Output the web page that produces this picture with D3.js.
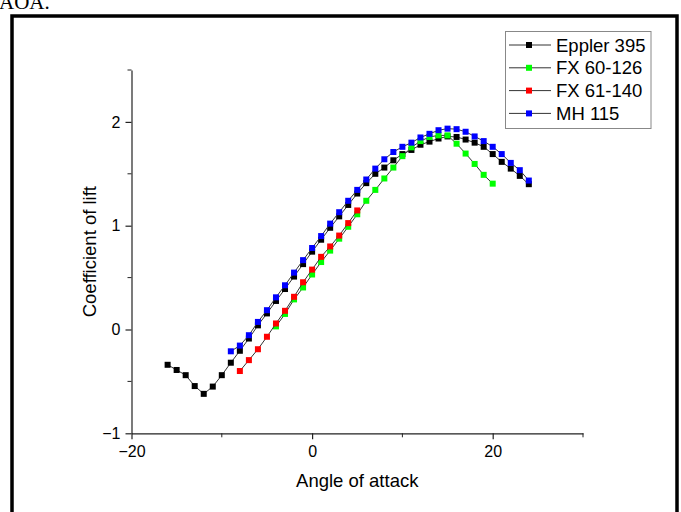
<!DOCTYPE html>
<html>
<head>
<meta charset="utf-8">
<script src="https://cdnjs.cloudflare.com/ajax/libs/d3/7.8.5/d3.min.js"></script>
<style>
	body { margin: 0; background: #fff; }
	svg { display: block; }
</style>
</head>
<body>
<div id="chart"></div>
<script>
//series names, in legend order
var seriesNames = ["Eppler 395", "FX 60-126", "FX 61-140", "MH 115"];

//angles of attack for each series
var epplerAoa = d3.range(-16, 25);
var fx60Aoa = d3.range(-4, 21);
var fx61Aoa = d3.range(-8, 6);
var mhAoa = d3.range(-9, 25);

//lift coefficients
var epplerCl = [-0.34, -0.39, -0.44, -0.545, -0.62, -0.55, -0.44, -0.32, -0.205, -0.087,
	0.04, 0.155, 0.275, 0.39, 0.51, 0.63, 0.75, 0.865, 0.98, 1.09,
	1.20, 1.31, 1.41, 1.50, 1.56, 1.63, 1.69, 1.73, 1.78, 1.81,
	1.84, 1.86, 1.855, 1.83, 1.80, 1.76, 1.69, 1.615, 1.55, 1.48, 1.40];
var fx60Cl = [0.03, 0.15, 0.29, 0.405, 0.53, 0.65, 0.76, 0.875, 0.99, 1.11,
	1.24, 1.345, 1.455, 1.56, 1.67, 1.755, 1.815, 1.855, 1.87, 1.87,
	1.79, 1.695, 1.595, 1.49, 1.405];
var fx61Cl = [-0.40, -0.295, -0.19, -0.07, 0.058, 0.18, 0.315, 0.455, 0.577, 0.70,
	0.80, 0.905, 1.025, 1.147];
var mhCl = [-0.21, -0.155, -0.055, 0.073, 0.186, 0.31, 0.426, 0.548, 0.668, 0.785,
	0.90, 1.02, 1.13, 1.24, 1.345, 1.445, 1.55, 1.64, 1.71, 1.76,
	1.80, 1.85, 1.885, 1.92, 1.935, 1.93, 1.905, 1.86, 1.815, 1.76,
	1.69, 1.605, 1.535, 1.435];

var seriesColors = ["#000000", "#00ff00", "#ff0000", "#0000ff"];

//tick values
var xMajorTicks = [-20, 0, 20];
var xMinorTicks = [-10, 10, 30];
var yMajorTicks = [-1, 0, 1, 2];
var yMinorTicks = [-0.5, 0.5, 1.5, 2.5];

var series = [
	{ name: seriesNames[0], x: epplerAoa, y: epplerCl, color: seriesColors[0] },
	{ name: seriesNames[1], x: fx60Aoa, y: fx60Cl, color: seriesColors[1] },
	{ name: seriesNames[2], x: fx61Aoa, y: fx61Cl, color: seriesColors[2] },
	{ name: seriesNames[3], x: mhAoa, y: mhCl, color: seriesColors[3] }
];

var width = 681;
var height = 512;

var svg = d3.select("#chart")
	.append("svg")
	.attr("width", width)
	.attr("height", height);

//caption text cut off at the top of the page
svg.append("text")
	.attr("x", -1)
	.attr("y", 9)
	.attr("font-family", "Liberation Serif, Times New Roman, serif")
	.attr("font-size", "21px")
	.attr("fill", "#000")
	.text("AOA.");

//black frame round the figure
svg.append("rect")
	.attr("x", 12)
	.attr("y", 16)
	.attr("width", 665)
	.attr("height", 520)
	.attr("fill", "none")
	.attr("stroke", "#000")
	.attr("stroke-width", 3.5);

//scales
var x = d3.scaleLinear().domain([-20, 30]).range([131.5, 583]);
var y = d3.scaleLinear().domain([-1, 2.5]).range([433.3, 70]);

var fontFamily = "Liberation Sans, Arial, sans-serif";

function minusFormat(d) {
	return d3.format("")(d).replace("-", "\u2212");
}

//x axis
var xAxis = svg.append("g")
	.attr("transform", "translate(0," + y(-1) + ")")
	.call(d3.axisBottom(x).tickValues(xMajorTicks).tickSize(6).tickSizeOuter(0).tickFormat(minusFormat));
xAxis.selectAll(".minor")
	.data(xMinorTicks)
	.enter()
	.append("line")
	.attr("class", "minor")
	.attr("x1", function(d) { return x(d); })
	.attr("x2", function(d) { return x(d); })
	.attr("y1", 0)
	.attr("y2", 4)
	.attr("stroke", "#222");

//y axis
var yAxis = svg.append("g")
	.attr("transform", "translate(" + x(-20) + ",0)")
	.call(d3.axisLeft(y).tickValues(yMajorTicks).tickSize(6).tickSizeOuter(0).tickFormat(minusFormat));
yAxis.selectAll(".minor")
	.data(yMinorTicks)
	.enter()
	.append("line")
	.attr("class", "minor")
	.attr("x1", 0)
	.attr("x2", -4)
	.attr("y1", function(d) { return y(d); })
	.attr("y2", function(d) { return y(d); })
	.attr("stroke", "#222");

//axis styling
svg.selectAll(".domain").attr("stroke", "#222").attr("stroke-width", 1.2);
svg.selectAll(".tick line").attr("stroke", "#222").attr("stroke-width", 1.2);
svg.selectAll(".tick text")
	.attr("font-family", fontFamily)
	.attr("font-size", "16px")
	.attr("fill", "#000");
xAxis.selectAll(".tick text").attr("dy", "0.95em");
yAxis.selectAll(".tick text").attr("dx", "-2px");

//axis titles
svg.append("text")
	.attr("x", (x(-20) + x(30)) / 2)
	.attr("y", 487)
	.attr("text-anchor", "middle")
	.attr("font-family", fontFamily)
	.attr("font-size", "18.5px")
	.attr("fill", "#000")
	.text("Angle of attack");

svg.append("text")
	.attr("transform", "translate(96," + (y(-1) + y(2.5)) / 2 + ") rotate(-90)")
	.attr("text-anchor", "middle")
	.attr("font-family", fontFamily)
	.attr("font-size", "18.5px")
	.attr("fill", "#000")
	.text("Coefficient of lift");

//lines and markers
var line = d3.line()
	.x(function(d) { return x(d[0]); })
	.y(function(d) { return y(d[1]); });

var markerSize = 6;

series.forEach(function(s) {
	var pts = d3.zip(s.x, s.y);
	var g = svg.append("g");

	g.append("path")
		.datum(pts)
		.attr("d", line)
		.attr("fill", "none")
		.attr("stroke", "#333")
		.attr("stroke-width", 1);

	g.selectAll("rect")
		.data(pts)
		.enter()
		.append("rect")
		.attr("x", function(d) { return x(d[0]) - markerSize / 2; })
		.attr("y", function(d) { return y(d[1]) - markerSize / 2; })
		.attr("width", markerSize)
		.attr("height", markerSize)
		.attr("fill", s.color);
});

//legend
var legend = svg.append("g");
legend.append("rect")
	.attr("x", 505.5)
	.attr("y", 31.5)
	.attr("width", 145.5)
	.attr("height", 97)
	.attr("fill", "#fff")
	.attr("stroke", "#888")
	.attr("stroke-width", 1);

var legendRows = legend.selectAll(".row")
	.data(series)
	.enter()
	.append("g")
	.attr("class", "row")
	.attr("transform", function(d, i) { return "translate(0," + (45 + i * 22.8) + ")"; });

legendRows.append("line")
	.attr("x1", 509)
	.attr("x2", 551)
	.attr("y1", 0)
	.attr("y2", 0)
	.attr("stroke", "#333")
	.attr("stroke-width", 1);

legendRows.append("rect")
	.attr("x", 529 - markerSize / 2)
	.attr("y", -markerSize / 2)
	.attr("width", markerSize)
	.attr("height", markerSize)
	.attr("fill", function(d) { return d.color; });

legendRows.append("text")
	.attr("x", 556)
	.attr("y", 0)
	.attr("dy", "0.36em")
	.attr("font-family", fontFamily)
	.attr("font-size", "18.5px")
	.attr("fill", "#000")
	.text(function(d) { return d.name; });
</script>
</body>
</html>
